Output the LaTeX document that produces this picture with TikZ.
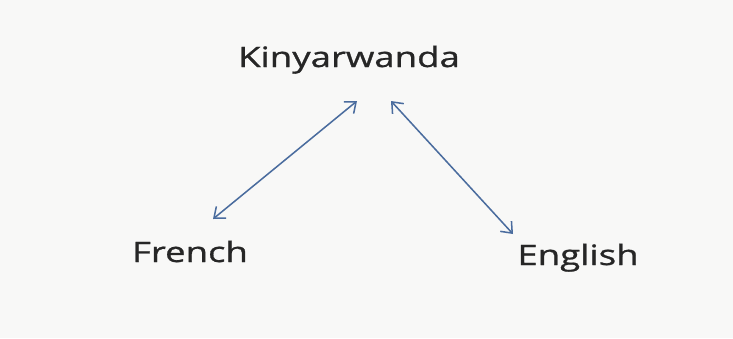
\documentclass[tikz,border=0pt]{standalone}
\usepackage{fontspec}
\setmainfont{Open Sans}
\newfontfamily\labelfont{Open Sans}[RawFeature={embolden=0.8}]
\usetikzlibrary{arrows.meta}
\definecolor{arrowblue}{RGB}{74,108,158}
\definecolor{textgray}{RGB}{38,38,38}
\definecolor{paper}{RGB}{248,248,247}
\begin{document}
\begin{tikzpicture}[x=0.03cm, y=-0.03cm,
                    every node/.style = {text=textgray, anchor=base, inner sep=0pt,
                        font=\labelfont\fontsize{24}{27}\selectfont},
                    wide/.style = {xscale=1.3, transform shape},
                    link/.style = {draw=arrowblue, line width=1.3pt,
                        {Straight Barb[length=8pt,width=13pt]}-{Straight Barb[length=8pt,width=13pt]}}]

    \fill[paper] (0,0) rectangle (733,338);

    \node[wide] (kin) at (349,67) {Kinyarwanda};
    \node[wide] (fr)  at (190,262) {French};
    \node[wide] (en)  at (578,265) {English};

    \coordinate (fr end)  at (213,219);
    \coordinate (kin l)   at (357,101);
    \coordinate (kin r)   at (391,101);
    \coordinate (en end)  at (513,234);

    \draw[link] (fr end) -- (kin l);
    \draw[link] (kin r) -- (en end);

\end{tikzpicture}
\end{document}
